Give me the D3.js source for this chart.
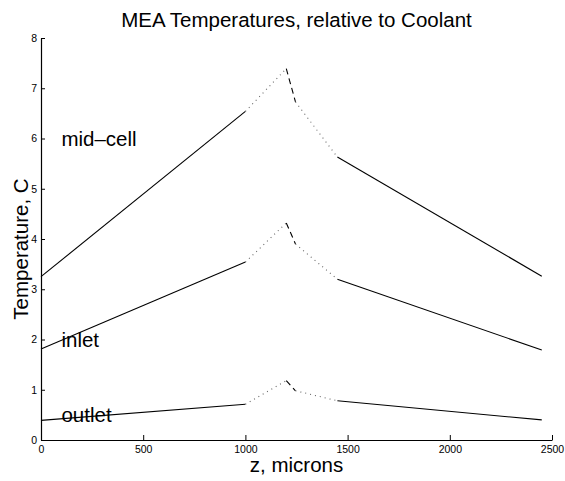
<!DOCTYPE html>
<html>
<head>
<meta charset="utf-8">
<script src="https://cdn.jsdelivr.net/npm/d3@7"></script>
<style>
  body { margin: 0; background: #fff; }
  text { font-family: "Liberation Sans", Arial, Helvetica, sans-serif; }
</style>
</head>
<body>
<div id="chart"></div>
<script>
'use strict';

// z positions of the breakpoints (microns)
var zPoints = [0, 1000, 1200, 1245, 1450, 2450];

// temperatures at each breakpoint, relative to coolant
var midCell = [3.25, 6.54, 7.39, 6.73, 5.63, 3.26];
var inlet   = [1.81, 3.54, 4.32, 3.90, 3.20, 1.79];
var outlet  = [0.39, 0.71, 1.18, 0.98, 0.78, 0.40];

// line style of each piece between breakpoints
var pieceStyles = ['solid', 'dotted', 'dashed', 'dotted', 'solid'];

var xTicks = [0, 500, 1000, 1500, 2000, 2500];
var yTicks = [0, 1, 2, 3, 4, 5, 6, 7, 8];

var curves = [
  {name: 'mid\u2013cell', values: midCell, labelZ: 100, labelT: 5.85},
  {name: 'inlet', values: inlet, labelZ: 100, labelT: 1.86},
  {name: 'outlet', values: outlet, labelZ: 100, labelT: 0.35}
];

var width = 565, height = 481;
var margin = {left: 41, right: 13, top: 38, bottom: 41};

var svg = d3.select('#chart').append('svg')
  .attr('width', width)
  .attr('height', height);

var x = d3.scaleLinear().domain([0, 2500]).range([margin.left, width - margin.right]);
var y = d3.scaleLinear().domain([0, 8]).range([height - margin.bottom, margin.top]);

// axes, ticks inward like matlab
svg.append('g')
  .attr('transform', 'translate(0,' + (height - margin.bottom) + ')')
  .call(d3.axisBottom(x).tickValues(xTicks).tickFormat(d3.format('d'))
    .tickSizeInner(-5).tickSizeOuter(0).tickPadding(6))
  .call(g => g.selectAll('text').style('font-size', '10.5px').attr('fill', '#000'));

svg.append('g')
  .attr('transform', 'translate(' + margin.left + ',0)')
  .call(d3.axisLeft(y).tickValues(yTicks).tickFormat(d3.format('d'))
    .tickSizeInner(-4).tickSizeOuter(0).tickPadding(4))
  .call(g => g.selectAll('text').style('font-size', '10.5px').attr('fill', '#000'));

svg.selectAll('.domain').attr('stroke', '#000').attr('stroke-width', 1.2);
svg.selectAll('.tick line').attr('stroke', '#000');

var dashFor = {solid: null, dotted: '1,4', dashed: '6,4'};
var strokeFor = {solid: '#000', dotted: '#666', dashed: '#000'};

curves.forEach(function(c) {
  var pts = zPoints.map((z, i) => [z, c.values[i]]);
  var pieces = pieceStyles.map((s, i) => ({style: s, pts: [pts[i], pts[i + 1]]}));
  var line = d3.line().x(d => x(d[0])).y(d => y(d[1]));

  svg.append('g').selectAll('path')
    .data(pieces)
    .enter().append('path')
    .attr('d', d => line(d.pts))
    .attr('fill', 'none')
    .attr('stroke', d => strokeFor[d.style])
    .attr('stroke-width', 1.1)
    .attr('stroke-dasharray', d => dashFor[d.style]);

  svg.append('text')
    .attr('x', x(c.labelZ))
    .attr('y', y(c.labelT))
    .style('font-size', '20.5px')
    .text(c.name);
});

var midX = (x.range()[0] + x.range()[1]) / 2;

svg.append('text')
  .attr('x', midX)
  .attr('y', 27)
  .attr('text-anchor', 'middle')
  .style('font-size', '20.5px')
  .text('MEA Temperatures, relative to Coolant');

svg.append('text')
  .attr('x', midX)
  .attr('y', 472)
  .attr('text-anchor', 'middle')
  .style('font-size', '20.5px')
  .text('z, microns');

svg.append('text')
  .attr('transform', 'translate(28,249) rotate(-90)')
  .attr('text-anchor', 'middle')
  .style('font-size', '20.5px')
  .text('Temperature, C');
</script>
</body>
</html>
